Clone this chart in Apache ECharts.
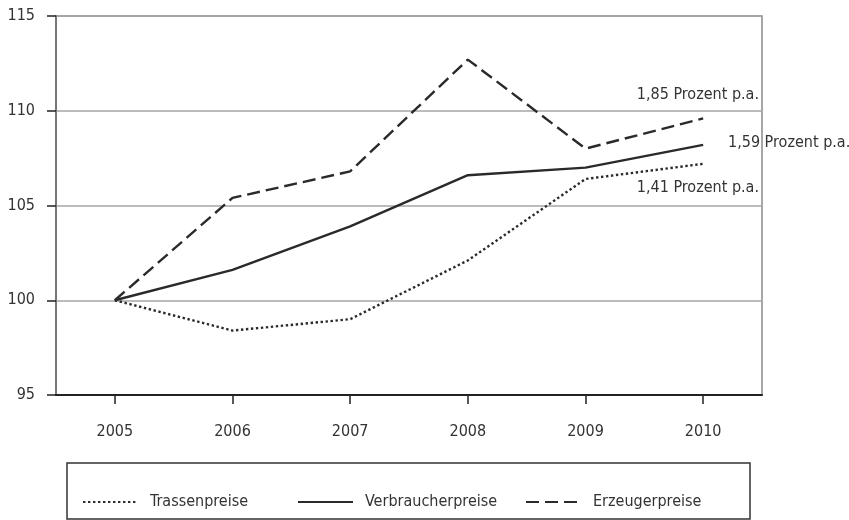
<!DOCTYPE html>
<html>
<head>
<meta charset="utf-8">
<script src="https://cdn.jsdelivr.net/npm/echarts@6/dist/echarts.min.js"></script>
<style>
html,body{margin:0;padding:0;background:#fff;}
#chart{width:849px;height:520px;}
</style>
</head>
<body>
<div id="chart"></div>
<script>
var years = ['2005', '2006', '2007', '2008', '2009', '2010'];
var trassenpreise = [100, 98.4, 99.0, 102.1, 106.4, 107.2];
var verbraucherpreise = [100, 101.6, 103.9, 106.6, 107.0, 108.2];
var erzeugerpreise = [100, 105.4, 106.8, 112.7, 108.0, 109.6];
var seriesNames = ['Trassenpreise', 'Verbraucherpreise', 'Erzeugerpreise'];
var annotations = ['1,85 Prozent p.a.', '1,59 Prozent p.a.', '1,41 Prozent p.a.'];

var FONT = "'Liberation Sans Narrow', 'DejaVu Sans Condensed', Roboto, sans-serif";
var TXT = '#333';
var FS = 16;

var chart = echarts.init(document.getElementById('chart'), null, {renderer: 'canvas'});

function legendAt(name, left) {
  return {
    data: [name],
    left: left,
    top: 494,
    padding: 0,
    orient: 'horizontal',
    itemWidth: 55,
    itemHeight: 14,
    selectedMode: false,
    itemStyle: {opacity: 0},
    textStyle: {fontFamily: FONT, fontSize: FS, color: TXT, padding: [0, 0, 0, 7]}
  };
}

var option = {
  animation: false,
  backgroundColor: '#fff',
  grid: {
    left: 56, right: 87, top: 16, bottom: 125,
    show: true, borderColor: '#8a8a8a', borderWidth: 1.5, backgroundColor: 'transparent'
  },
  xAxis: {
    type: 'category',
    data: years,
    boundaryGap: true,
    axisLine: {show: true, lineStyle: {color: '#222', width: 2}},
    axisTick: {show: true, alignWithLabel: true, length: 9, lineStyle: {color: '#222', width: 1.5}},
    axisLabel: {margin: 29, fontFamily: FONT, fontSize: FS, color: TXT},
    splitLine: {show: false}
  },
  yAxis: {
    type: 'value',
    min: 95, max: 115, interval: 5,
    axisLine: {show: true, lineStyle: {color: '#777', width: 2}},
    axisTick: {show: true, length: 9, lineStyle: {color: '#222', width: 1.5}},
    axisLabel: {margin: 21, fontFamily: FONT, fontSize: FS, color: TXT},
    splitLine: {show: true, lineStyle: {color: '#a6a6a6', width: 1.5}}
  },
  legend: [
    legendAt(seriesNames[0], 82),
    legendAt(seriesNames[1], 297),
    legendAt(seriesNames[2], 525)
  ],
  series: [
    {
      name: seriesNames[0], type: 'line', data: trassenpreise,
      symbol: 'none', silent: true,
      lineStyle: {color: '#2a2a2a', width: 2.4, type: [2.4, 2.6]},
      itemStyle: {color: '#2a2a2a'}
    },
    {
      name: seriesNames[1], type: 'line', data: verbraucherpreise,
      symbol: 'none', silent: true,
      lineStyle: {color: '#2a2a2a', width: 2.4, type: 'solid'},
      itemStyle: {color: '#2a2a2a'}
    },
    {
      name: seriesNames[2], type: 'line', data: erzeugerpreise,
      symbol: 'none', silent: true,
      lineStyle: {color: '#2a2a2a', width: 2.4, type: [13, 6]},
      itemStyle: {color: '#2a2a2a'}
    }
  ],
  graphic: [
    {
      type: 'rect', silent: true,
      shape: {x: 67, y: 463, width: 683, height: 56},
      style: {fill: 'none', stroke: '#333', lineWidth: 1.5}
    },
    {
      type: 'text', silent: true, x: 759, y: 95,
      style: {text: annotations[0], font: FS + 'px ' + FONT, fill: TXT, align: 'right', verticalAlign: 'middle'}
    },
    {
      type: 'text', silent: true, x: 728, y: 143,
      style: {text: annotations[1], font: FS + 'px ' + FONT, fill: TXT, align: 'left', verticalAlign: 'middle'}
    },
    {
      type: 'text', silent: true, x: 759, y: 188,
      style: {text: annotations[2], font: FS + 'px ' + FONT, fill: TXT, align: 'right', verticalAlign: 'middle'}
    }
  ]
};
chart.setOption(option);
</script>
</body>
</html>
